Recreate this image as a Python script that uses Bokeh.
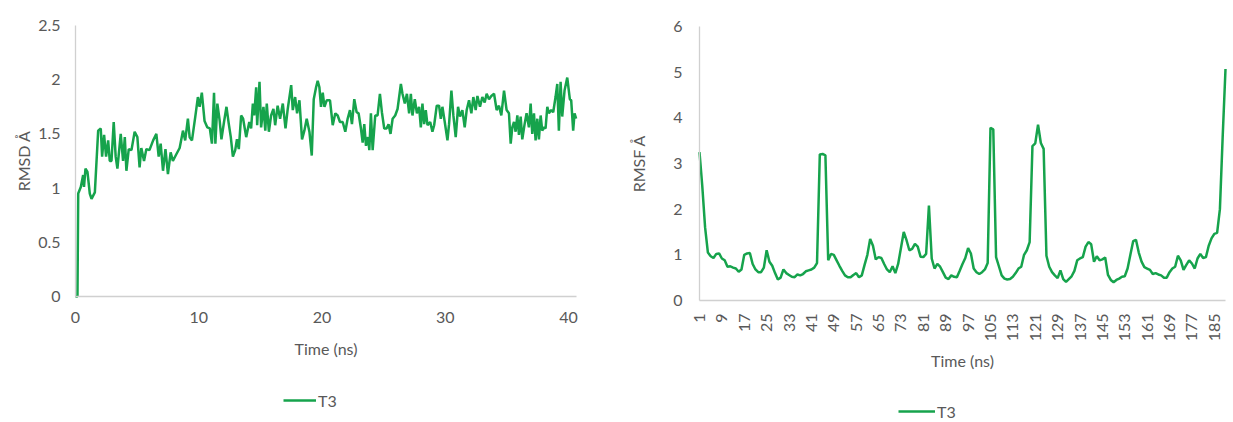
import math
from bokeh.plotting import figure
from bokeh.layouts import row
from bokeh.models import Range1d, FixedTicker, CustomJSTickFormatter, Legend, LegendItem
from bokeh.embed import file_html
from bokeh.resources import INLINE

# ---------------- data ----------------
# Left chart: RMSD (Å) vs time (ns)
time_ns = [
    0.0, 0.16, 0.22, 0.43, 0.62, 0.69, 0.81, 0.97, 1.16, 1.3, 1.57, 1.84, 2.05, 2.16, 2.32,
    2.48, 2.65, 2.78, 2.92, 3.1, 3.26, 3.4, 3.67, 3.86, 4.0, 4.13, 4.32, 4.54, 4.8, 5.02,
    5.2, 5.34, 5.56, 5.75, 6.0, 6.3, 6.56, 6.75, 6.91, 7.1, 7.3, 7.5, 7.72, 7.9, 8.17,
    8.45, 8.72, 8.9, 9.12, 9.26, 9.45, 9.72, 9.93, 10.07, 10.25, 10.47, 10.7, 10.9, 11.07,
    11.24, 11.35, 11.51, 11.7, 11.84, 12.05, 12.25, 12.44, 12.6, 12.77, 12.96, 13.1, 13.25,
    13.44, 13.6, 13.85, 14.1, 14.25, 14.39, 14.5, 14.66, 14.74, 14.93, 15.06, 15.25, 15.4,
    15.52, 15.69, 15.87, 16.06, 16.2, 16.4, 16.6, 16.82, 17.04, 17.22, 17.5, 17.63, 17.82,
    17.98, 18.17, 18.38, 18.57, 18.76, 18.98, 19.17, 19.33, 19.52, 19.65, 19.79, 19.92,
    20.06, 20.2, 20.38, 20.65, 20.87, 21.08, 21.27, 21.46, 21.68, 21.89, 22.08, 22.27,
    22.43, 22.62, 22.81, 22.97, 23.16, 23.3, 23.43, 23.57, 23.73, 23.84, 23.97, 24.11,
    24.32, 24.51, 24.7, 24.86, 25.05, 25.24, 25.4, 25.56, 25.73, 25.94, 26.13, 26.4,
    26.53, 26.72, 26.89, 27.07, 27.21, 27.34, 27.53, 27.7, 27.88, 28.02, 28.15, 28.29,
    28.42, 28.56, 28.78, 28.96, 29.1, 29.31, 29.5, 29.64, 29.77, 29.96, 30.18, 30.31,
    30.5, 30.66, 30.85, 31.04, 31.2, 31.39, 31.58, 31.74, 31.93, 32.12, 32.28, 32.47,
    32.61, 32.82, 33.01, 33.2, 33.36, 33.55, 33.74, 33.96, 34.17, 34.36, 34.55, 34.77,
    34.98, 35.17, 35.31, 35.44, 35.58, 35.71, 35.85, 35.98, 36.12, 36.25, 36.44, 36.6,
    36.79, 36.93, 37.06, 37.2, 37.33, 37.47, 37.6, 37.74, 37.87, 38.01, 38.14, 38.28,
    38.41, 38.6, 38.76, 38.95, 39.09, 39.22, 39.36, 39.49, 39.68, 39.9, 40.11, 40.22,
    40.38, 40.49, 40.62,
]
rmsd_a = [
    0.0, 0.0, 0.95, 1.01, 1.12, 1.01, 1.18, 1.15, 0.95, 0.90, 0.96, 1.53, 1.55, 1.29, 1.49,
    1.29, 1.44, 1.25, 1.25, 1.61, 1.29, 1.18, 1.50, 1.25, 1.47, 1.16, 1.36, 1.35, 1.52, 1.47,
    1.19, 1.37, 1.25, 1.36, 1.35, 1.44, 1.50, 1.29, 1.41, 1.16, 1.36, 1.13, 1.33, 1.25, 1.31,
    1.37, 1.53, 1.44, 1.64, 1.47, 1.44, 1.66, 1.84, 1.75, 1.88, 1.62, 1.56, 1.55, 1.41,
    1.88, 1.41, 1.78, 1.62, 1.45, 1.61, 1.75, 1.59, 1.47, 1.29, 1.35, 1.45, 1.36,
    1.67, 1.64, 1.47, 1.61, 1.55, 1.78, 1.67, 1.93, 1.58, 1.98, 1.56, 1.75, 1.53,
    1.78, 1.52, 1.67, 1.73, 1.58, 1.76, 1.64, 1.78, 1.55, 1.73, 1.95, 1.72, 1.84,
    1.69, 1.81, 1.45, 1.53, 1.64, 1.52, 1.30, 1.82, 1.93, 1.99, 1.93, 1.75,
    1.88, 1.75, 1.81, 1.81, 1.58, 1.69, 1.67, 1.61, 1.61, 1.52, 1.64, 1.72,
    1.59, 1.82, 1.70, 1.69, 1.55, 1.42, 1.59, 1.39, 1.47, 1.35, 1.69, 1.35,
    1.67, 1.67, 1.87, 1.70, 1.55, 1.55, 1.59, 1.50, 1.64, 1.67, 1.73, 1.96,
    1.87, 1.78, 1.87, 1.69, 1.87, 1.67, 1.82, 1.69, 1.75, 1.56, 1.78, 1.59,
    1.72, 1.58, 1.61, 1.52, 1.58, 1.76, 1.76, 1.64, 1.75, 1.61, 1.44, 1.59,
    1.90, 1.67, 1.47, 1.75, 1.66, 1.72, 1.56, 1.72, 1.81, 1.69, 1.84, 1.72,
    1.85, 1.75, 1.84, 1.79, 1.87, 1.82, 1.85, 1.87, 1.72, 1.76, 1.67, 1.90,
    1.72, 1.69, 1.41, 1.56, 1.61, 1.52, 1.67, 1.49, 1.66, 1.45, 1.59, 1.69,
    1.56, 1.78, 1.50, 1.69, 1.44, 1.64, 1.45, 1.67, 1.53, 1.56, 1.55, 1.75,
    1.69, 1.72, 1.70, 1.84, 1.96, 1.53, 1.98, 1.66, 1.90, 2.02, 1.82, 1.81,
    1.53, 1.69, 1.64,
]

# Right chart: RMSF (Å) per index 1..189
rmsf_a = [
    3.25, 2.5, 1.6, 1.05, 0.97, 0.93, 1.02, 1.03, 0.92, 0.88,
    0.74, 0.75, 0.72, 0.70, 0.63, 0.68, 1.0, 1.03, 1.04, 0.8,
    0.68, 0.62, 0.62, 0.72, 1.1, 0.85, 0.76, 0.6, 0.46, 0.5,
    0.68, 0.6, 0.56, 0.52, 0.51, 0.57, 0.55, 0.58, 0.64, 0.66,
    0.68, 0.72, 0.82, 3.2, 3.21, 3.18, 0.88, 1.02, 1.0, 0.88,
    0.76, 0.65, 0.55, 0.51, 0.51, 0.56, 0.6, 0.51, 0.55, 0.78,
    1.0, 1.35, 1.2, 0.9, 0.95, 0.93, 0.8, 0.68, 0.62, 0.75,
    0.6, 0.8, 1.15, 1.5, 1.32, 1.1, 1.13, 1.24, 1.18, 0.96,
    0.95, 1.02, 2.08, 0.92, 0.7, 0.8, 0.74, 0.62, 0.5, 0.47,
    0.55, 0.52, 0.51, 0.65, 0.8, 0.93, 1.15, 1.03, 0.7, 0.62,
    0.58, 0.62, 0.68, 0.82, 3.78, 3.75, 0.95, 0.75, 0.55, 0.48,
    0.46, 0.47, 0.52, 0.6, 0.7, 0.74, 1.0, 1.1, 1.28, 3.38,
    3.44, 3.85, 3.45, 3.32, 0.98, 0.74, 0.62, 0.55, 0.49, 0.66,
    0.47, 0.41, 0.47, 0.53, 0.65, 0.88, 0.92, 0.95, 1.18, 1.28,
    1.23, 0.85, 0.97, 0.88, 0.9, 0.94, 0.56, 0.45, 0.4, 0.45,
    0.48, 0.52, 0.53, 0.7, 1.0, 1.3, 1.33, 1.05, 0.85, 0.73,
    0.7, 0.67, 0.58, 0.6, 0.57, 0.55, 0.5, 0.5, 0.62, 0.7,
    0.74, 0.98, 0.88, 0.67, 0.78, 0.88, 0.81, 0.7, 0.92, 1.02,
    0.93, 0.95, 1.2, 1.36, 1.46, 1.48, 2.0, 3.6, 5.07,
]
rmsf_index = list(range(1, len(rmsf_a) + 1))

left_xticks = [0, 10, 20, 30, 40]
left_yticks = [0, 0.5, 1, 1.5, 2, 2.5]
right_xticks = list(range(1, 186, 8))
right_yticks = [0, 1, 2, 3, 4, 5, 6]
series_name = "T3"

# ---------------- style ----------------
GREEN = "#16a34c"
AXIS_C = "#d0d0d0"
TXT = "#595959"
FONT = "Lato"
FS = "16px"

W1, W2, H = 616, 617, 422


def style(p, x0, y0):
    p.grid.visible = False
    p.outline_line_color = None
    for ax in (p.xaxis[0], p.yaxis[0]):
        ax.axis_line_color = AXIS_C
        ax.axis_line_width = 1.3
        ax.major_tick_line_color = None
        ax.minor_tick_line_color = None
        ax.major_label_text_color = TXT
        ax.major_label_text_font = FONT
        ax.major_label_text_font_size = FS
        ax.axis_label_text_color = TXT
        ax.axis_label_text_font = FONT
        ax.axis_label_text_font_size = FS
        ax.axis_label_text_font_style = "normal"
    # axes drawn at the data origin; the frame covers the whole figure
    p.xaxis.fixed_location = y0
    p.yaxis.fixed_location = x0


def add_legend(p, renderer, x_off, y_off, glyph_w):
    leg = Legend(items=[LegendItem(label=series_name, renderers=[renderer])],
                 location=(x_off, y_off), orientation="horizontal",
                 glyph_width=glyph_w, glyph_height=20, label_standoff=2, padding=0, margin=0,
                 border_line_color=None, background_fill_alpha=0,
                 label_text_font=FONT, label_text_font_size=FS, label_text_color=TXT)
    p.add_layout(leg, "center")


fmt = CustomJSTickFormatter(code="return String(tick);")
NOBORDER = dict(min_border_left=0, min_border_right=0, min_border_top=0, min_border_bottom=0)

# ---------------- left figure ----------------
# axis box in page px: x 75..576 (0..40.65 ns), y 296..25 (0..2.5)
LX0, LX1, LXMAX = 75, 576, 40.65
LY0, LY1, LYMAX = 296, 25, 2.5
lxp = (LX1 - LX0) / LXMAX
lyp = (LY0 - LY1) / LYMAX
p1 = figure(width=W1, height=H,
            x_range=Range1d(-LX0 / lxp, LXMAX + (W1 - LX1) / lxp),
            y_range=Range1d(-(H - LY0) / lyp, LYMAX + LY1 / lyp),
            output_backend="svg", toolbar_location=None, **NOBORDER)
r1 = p1.line(time_ns, rmsd_a, line_color=GREEN, line_width=2.5)
style(p1, 0, 0)
p1.xaxis.bounds = (0, LXMAX)
p1.yaxis.bounds = (0, LYMAX)
p1.xaxis.ticker = FixedTicker(ticks=left_xticks)
p1.yaxis.ticker = FixedTicker(ticks=left_yticks)
p1.yaxis.formatter = fmt
p1.xaxis.major_label_standoff = 9
p1.yaxis.major_label_standoff = 9
p1.xaxis.axis_label = "Time (ns)"
p1.yaxis.axis_label = "RMSD Å"
p1.xaxis.axis_label_standoff = 13
p1.yaxis.axis_label_standoff = 2
add_legend(p1, r1, 283, H - 410, 33)

# ---------------- right figure ----------------
# axis box in page px: x 699..1225 (1..189), y 300..26 (0..6)
RX0, RX1, RXMIN, RXMAX = 699 - W1, 1225 - W1, 1, 189
RY0, RY1, RYMAX = 300, 26, 6.0
rxp = (RX1 - RX0) / (RXMAX - RXMIN)
ryp = (RY0 - RY1) / RYMAX
p2 = figure(width=W2, height=H,
            x_range=Range1d(RXMIN - RX0 / rxp, RXMAX + (W2 - RX1) / rxp),
            y_range=Range1d(-(H - RY0) / ryp, RYMAX + RY1 / ryp),
            output_backend="svg", toolbar_location=None, **NOBORDER)
r2 = p2.line(rmsf_index, rmsf_a, line_color=GREEN, line_width=2.5)
style(p2, RXMIN, 0)
p2.xaxis.bounds = (RXMIN, RXMAX)
p2.yaxis.bounds = (0, RYMAX)
p2.xaxis.ticker = FixedTicker(ticks=right_xticks)
p2.yaxis.ticker = FixedTicker(ticks=right_yticks)
p2.xaxis.formatter = fmt
p2.yaxis.formatter = fmt
p2.xaxis.major_label_orientation = math.pi / 2
p2.xaxis.major_label_standoff = 7
p2.yaxis.major_label_standoff = 11
p2.xaxis.axis_label = "Time (ns)"
p2.yaxis.axis_label = "RMSF Å"
p2.xaxis.axis_label_standoff = 7
p2.yaxis.axis_label_standoff = 22
add_legend(p2, r2, 898 - W1, 1, 37)

layout = row(p1, p2)
open("out.html", "w").write(file_html(layout, INLINE))
